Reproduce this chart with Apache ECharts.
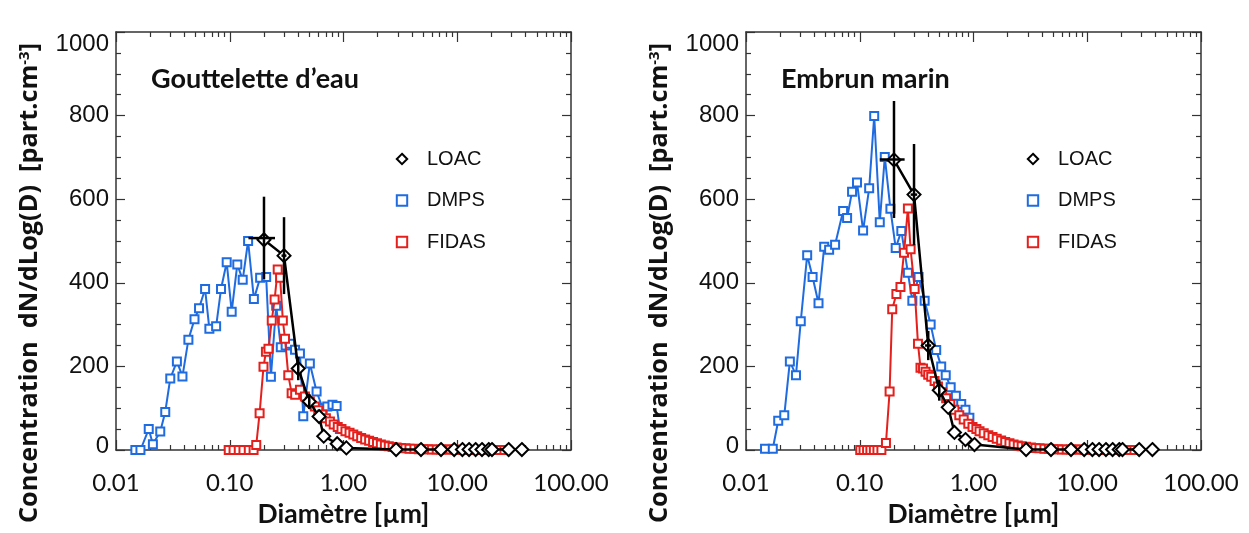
<!DOCTYPE html>
<html><head><meta charset="utf-8">
<script src="https://cdn.jsdelivr.net/npm/echarts@6/dist/echarts.min.js"></script>
<style>html,body{margin:0;padding:0;background:#fff}#c{width:1249px;height:533px}</style>
</head><body><div id="c"></div>
<script>
// ---------- data ----------
const panelTitles = ['Gouttelette d\u2019eau', 'Embrun marin'];
const seriesNames = ['LOAC', 'DMPS', 'FIDAS'];
const xMinorTicks = [0.02,0.03,0.04,0.05,0.06,0.07,0.08,0.09,
                     0.2,0.3,0.4,0.5,0.6,0.7,0.8,0.9,
                     2,3,4,5,6,7,8,9,
                     20,30,40,50,60,70,80,90];

// Left panel : Gouttelette d'eau
const dmpsLeft = [[0.0148,0],[0.0164,0],[0.0194,50],[0.0211,14],[0.0245,44],[0.0271,91],[0.030,171],
  [0.0343,212],[0.0384,176],[0.0433,264],[0.049,313],[0.0537,339],[0.0607,385],[0.0662,290],
  [0.0759,296],[0.0838,385],[0.094,449],[0.104,331],[0.1165,444],[0.130,407],[0.145,500],
  [0.163,361],[0.185,412],[0.209,414],[0.230,175],[0.256,345],[0.281,246],[0.310,250],[0.339,254],
  [0.375,240],[0.414,231],[0.443,81],[0.506,207],[0.58,140],[0.655,100],[0.72,104],[0.80,108],
  [0.87,105],[0.93,50]];
const fidasLeft = [[0.098,0],[0.108,0],[0.120,0],[0.132,0],[0.147,0],[0.162,0],[0.171,12],[0.183,88],
  [0.198,199],[0.208,235],[0.219,242],[0.234,310],[0.248,360],[0.264,432],[0.277,412],[0.293,310],
  [0.306,266],[0.327,179],[0.350,136],[0.376,132],[0.414,144],[0.458,128],[0.506,116],[0.56,104],
  [0.60,95],[0.65,85],[0.70,76],[0.76,68],[0.82,61],[0.89,55],[0.96,50],[1.04,45],[1.13,41],
  [1.22,37],[1.32,33],[1.43,29],[1.55,25],[1.68,22],[1.82,19],[1.97,16],[2.13,13],[2.31,11],
  [2.5,9],[2.7,7],[2.93,6],[3.2,5],[3.5,4],[3.8,3],[4.2,3],[4.6,2],[5.0,2],[5.5,2],[6.0,1],
  [6.6,1],[7.2,1],[7.9,1],[8.7,1],[9.5,1],[10.4,0],[11.4,0],[12.5,0],[13.7,0],[15,0],[16.5,0],
  [18,0],[19.7,0],[21.6,0],[23.7,0],[26,0]];
const loacLeft = [[0.2,503],[0.3,465],[0.4,195],[0.5,116],[0.61,80],[0.67,33],[0.88,15],[1.06,5],
  [2.9,1],[4.8,1],[7.2,1],[9.4,1],[11.1,1],[12.7,1],[14.5,1],[16.5,1],[18.9,1],[20.2,1],[28.3,1],[37,1]];
// [x, yLow, yHigh, xLow, xHigh]
const loacErrLeft = [[0.2,408,606,0.146,0.25],[0.3,373,557,0.285,0.315],[0.4,167,223,0.4,0.4],[0.5,98,134,0.5,0.5]];

// Right panel : Embrun marin
const dmpsRight = [[0.0147,3],[0.0172,3],[0.0192,70],[0.0217,83],[0.0243,212],[0.0275,179],[0.0303,308],
  [0.0345,466],[0.0385,414],[0.0434,351],[0.0487,486],[0.0538,479],[0.0607,491],[0.0714,572],
  [0.0774,555],[0.0856,618],[0.0946,640],[0.107,525],[0.121,626],[0.134,799],[0.150,545],
  [0.166,701],[0.186,577],[0.207,483],[0.232,524],[0.265,424],[0.290,357],[0.329,414],[0.372,357],
  [0.42,300],[0.47,239],[0.52,200],[0.57,179],[0.63,150],[0.70,130],[0.78,110],[0.85,96],[0.92,77]];
const fidasRight = [[0.101,0],[0.108,0],[0.116,0],[0.124,0],[0.133,0],[0.143,0],[0.155,0],[0.170,17],
  [0.183,140],[0.193,337],[0.210,373],[0.228,390],[0.245,472],[0.265,578],[0.280,480],[0.304,385],
  [0.325,254],[0.342,197],[0.360,195],[0.379,187],[0.40,180],[0.425,175],[0.455,165],[0.487,152],
  [0.53,138],[0.575,124],[0.625,110],[0.68,96],[0.75,83],[0.82,73],[0.90,63],[0.98,55],[1.06,50],
  [1.13,45],[1.23,40],[1.35,35],[1.47,31],[1.6,27],[1.75,23],[1.9,19],[2.07,16],[2.25,13],
  [2.45,11],[2.65,9],[2.9,8],[3.2,6],[3.5,5],[3.8,4],[4.2,3],[4.6,3],[5.0,2],[5.5,2],[6.0,1],
  [6.6,1],[7.2,1],[7.9,1],[8.7,1],[9.5,0],[10.4,0],[11.4,0],[12.5,0],[13.7,0],[15,0],[16.5,0],
  [18,0],[19.7,0],[21.6,0],[23.7,0],[26,0]];
const loacRight = [[0.2,694],[0.3,611],[0.4,250],[0.5,143],[0.6,102],[0.68,42],[0.85,25],[1.02,13],
  [2.9,1],[4.8,1],[7.2,1],[9.4,1],[11.1,1],[12.7,1],[14.6,1],[16.7,1],[19.1,1],[20.4,1],[28.6,1],[37.4,1]];
const loacErrRight = [[0.2,555,835,0.15,0.248],[0.3,490,732,0.28,0.32],[0.4,215,285,0.375,0.425],[0.5,118,168,0.5,0.5]];

// ---------- layout / style ----------
const COL = {LOAC:'#000000', DMPS:'#1f6be0', FIDAS:'#e5201c'};
const AX = '#333';
const grids = [
  {left:116, top:32, width:455, height:422},
  {left:746, top:32, width:455, height:422}
];
const panels = [
  {dmps:dmpsLeft, fidas:fidasLeft, loac:loacLeft, err:loacErrLeft},
  {dmps:dmpsRight, fidas:fidasRight, loac:loacRight, err:loacErrRight}
];

const xAxes = [], yAxes = [], series = [], titles = [], legends = [];
panels.forEach((p, g) => {
  const base = {type:'log', logBase:10, min:0.01, max:100, gridIndex:g, splitLine:{show:false}};
  const xi = xAxes.length;
  xAxes.push(Object.assign({}, base, {
    position:'bottom',
    axisLine:{show:true, lineStyle:{color:AX, width:1.5}},
    axisTick:{show:true, inside:true, length:10, lineStyle:{color:AX, width:1.2}},
    axisLabel:{show:true, margin:21, color:'#111', fontFamily:'Lato', fontSize:24,
      formatter:(v)=>Number(v).toFixed(2)},
    name:'Diamètre [µm]', nameLocation:'middle', nameGap:51,
    nameTextStyle:{fontFamily:'Lato', fontWeight:'bold', fontSize:26.5, color:'#111'}
  }));
  xAxes.push(Object.assign({}, base, {
    position:'bottom', axisLine:{show:false},
    axisTick:{show:true, inside:true, length:5, customValues:xMinorTicks, lineStyle:{color:AX, width:1.2}},
    axisLabel:{show:false}
  }));
  xAxes.push(Object.assign({}, base, {
    position:'top', axisLine:{show:true, lineStyle:{color:AX, width:1.5}},
    axisTick:{show:true, inside:true, length:10, lineStyle:{color:AX, width:1.2}},
    axisLabel:{show:false}
  }));
  xAxes.push(Object.assign({}, base, {
    position:'top', axisLine:{show:false},
    axisTick:{show:true, inside:true, length:5, customValues:xMinorTicks, lineStyle:{color:AX, width:1.2}},
    axisLabel:{show:false}
  }));
  const yi = yAxes.length;
  const ybase = {type:'value', min:0, max:1000, interval:200, gridIndex:g, splitLine:{show:false},
    axisLine:{show:true, lineStyle:{color:AX, width:1.5}},
    axisTick:{show:true, inside:true, length:9, lineStyle:{color:AX, width:1.2}},
    minorTick:{show:true, splitNumber:4, length:5, lineStyle:{color:AX, width:1.2}}};
  yAxes.push(Object.assign({}, ybase, {
    position:'left',
    axisLabel:{show:true, margin:7, color:'#111', fontFamily:'Liberation Sans', fontSize:24,
      verticalAlignMaxLabel:'top',
      formatter:(v)=> v === 0 ? '{z|0}' : String(v),
      rich:{z:{fontFamily:'Liberation Sans', fontSize:24, color:'#111', padding:[0,0,8,0]}}},
    name:'{a|Concentration  dN/dLog(D)  [part.cm}{s|-3}{a|]}',
    nameLocation:'middle', nameRotate:90, nameGap:74,
    nameTextStyle:{padding:[0,84,0,0], rich:{
      a:{fontFamily:'Open Sans', fontWeight:'bold', fontSize:25.3, color:'#111'},
      s:{fontFamily:'Open Sans', fontWeight:'bold', fontSize:15, color:'#111', verticalAlign:'top', padding:[0,0,10,0]}
    }}
  }));
  yAxes.push(Object.assign({}, ybase, {position:'right', axisLabel:{show:false}}));

  series.push({name:'DMPS', type:'line', xAxisIndex:xi, yAxisIndex:yi, data:p.dmps,
    symbol:'emptyRect', symbolSize:8, lineStyle:{color:COL.DMPS, width:2},
    itemStyle:{color:COL.DMPS, borderColor:COL.DMPS, borderWidth:2}, z:2, animation:false});
  series.push({name:'FIDAS', type:'line', xAxisIndex:xi, yAxisIndex:yi, data:p.fidas,
    symbol:'emptyRect', symbolSize:8, lineStyle:{color:COL.FIDAS, width:2},
    itemStyle:{color:COL.FIDAS, borderColor:COL.FIDAS, borderWidth:2}, z:3, animation:false});
  series.push({name:'LOAC', type:'line', xAxisIndex:xi, yAxisIndex:yi, data:p.loac,
    symbol:'emptyDiamond', symbolSize:13, lineStyle:{color:COL.LOAC, width:2.5},
    itemStyle:{color:COL.LOAC, borderColor:COL.LOAC, borderWidth:2.5}, z:4, animation:false});
  series.push({name:'LOAC-err', type:'custom', xAxisIndex:xi, yAxisIndex:yi, data:p.err, z:5,
    encode:{x:[0,3,4], y:[1,2]}, animation:false,
    renderItem:(params, api) => {
      const x = api.value(0), lo = api.value(1), hi = api.value(2), xl = api.value(3), xh = api.value(4);
      const a = api.coord([x, lo]), b = api.coord([x, hi]);
      const c = api.coord([xl, (lo+hi)/2]), d = api.coord([xh, (lo+hi)/2]);
      const mid = api.coord([x, (lo+hi)/2]);
      const st = {stroke:'#000', lineWidth:2.5};
      const kids = [{type:'line', shape:{x1:a[0], y1:a[1], x2:b[0], y2:b[1]}, style:st}];
      if (xh > xl) kids.push({type:'line', shape:{x1:c[0], y1:mid[1], x2:d[0], y2:mid[1]}, style:st});
      return {type:'group', children:kids};
    }});

  titles.push({text:panelTitles[g], left: g===0 ? 146 : 776, top:61,
    textStyle:{fontFamily:'Lato', fontWeight:'bold', fontSize:27, color:'#111'}});
  const noLine = {color:'rgba(0,0,0,0)', width:0};
  legends.push({orient:'vertical', left: g===0 ? 377 : 1008, top:144, itemWidth:40, itemHeight:13,
    itemGap:21.5, selectedMode:false,
    textStyle:{fontFamily:'Liberation Sans', fontSize:20, color:'#111'},
    data:[
      {name:'LOAC', lineStyle:noLine},
      {name:'DMPS', lineStyle:noLine},
      {name:'FIDAS', lineStyle:noLine}
    ]});
});

const chart = echarts.init(document.getElementById('c'), null, {renderer:'canvas'});
chart.setOption({
  backgroundColor:'#fff', animation:false,
  title:titles, legend:legends, grid:grids, xAxis:xAxes, yAxis:yAxes, series:series
});
</script></body></html>
